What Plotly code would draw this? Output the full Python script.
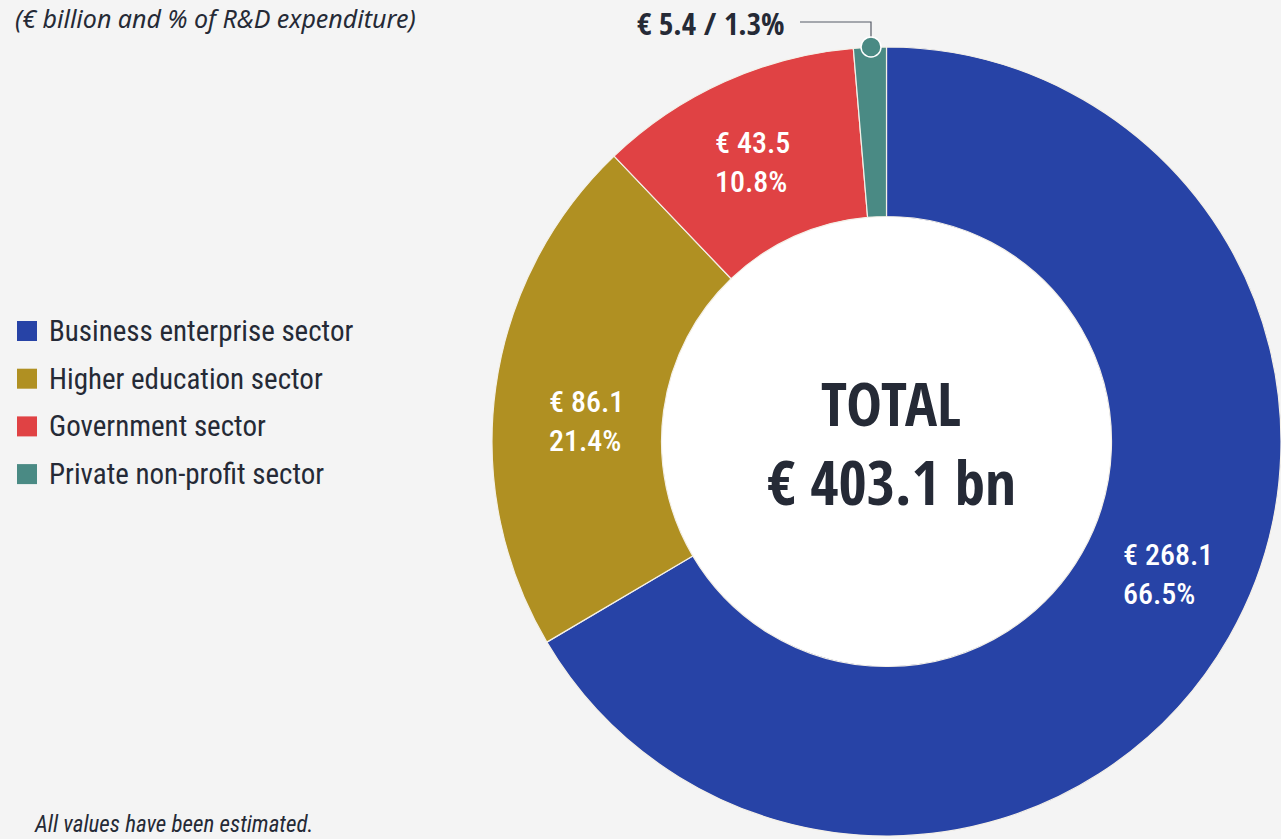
import plotly.graph_objects as go

# ---- data ----
sectors = ["Business enterprise sector", "Higher education sector",
           "Government sector", "Private non-profit sector"]
values_bn = [268.1, 86.1, 43.5, 5.4]
shares_pct = [66.5, 21.4, 10.8, 1.3]
total_bn = 403.1
colors = ["#2743a6", "#b09022", "#e04244", "#4a8a84"]

W, H = 1281, 839
BG = "#f4f4f4"
DARK = "#252a36"
COND = "Roboto Condensed, Roboto, sans-serif"
COND_BOLD = "Open Sans Condensed, Roboto Condensed, sans-serif"

def px(x):
    return x / W

def py(y):
    return 1 - y / H

# pie geometry (pixels)
left, top = 492, 44
cx, cy = (left + W) / 2, (top + H) / 2
R = min(W - left, H - top) / 2
hole_r = 225
hole = hole_r / R

fig = go.Figure()
fig.add_trace(go.Pie(
    labels=sectors, values=values_bn, sort=False, direction="clockwise",
    rotation=0, hole=hole,
    marker=dict(colors=colors, line=dict(color="#f4f0e8", width=1.2)),
    textinfo="none", showlegend=False, hoverinfo="label+value+percent",
    domain=dict(x=[px(left), 1.0], y=[0.0, py(top)]),
))

shapes = []
annotations = []

# white centre disc
shapes.append(dict(type="circle", xref="paper", yref="paper", layer="below",
                   x0=px(cx - hole_r), x1=px(cx + hole_r),
                   y0=py(cy + hole_r), y1=py(cy - hole_r),
                   fillcolor="white", line=dict(width=0)))

# slice labels
label_pos = [(1121, 574), (547, 421), (713, 162)]
for i, (lx, ly) in enumerate(label_pos):
    annotations.append(dict(
        xref="paper", yref="paper", x=px(lx), y=py(ly), xanchor="left", yanchor="middle",
        align="left", showarrow=False,
        text=f"€ {values_bn[i]:.1f}<br>{shares_pct[i]:.1f}%",
        font=dict(family=COND, size=30, color="white", weight=500)))

# small slice callout
annotations.append(dict(
    xref="paper", yref="paper", x=px(787), y=py(23), xanchor="right", yanchor="middle",
    showarrow=False, text=f"<b>€ {values_bn[3]:.1f} / {shares_pct[3]:.1f}%</b>",
    font=dict(family=COND_BOLD, size=31, color=DARK)))
shapes.append(dict(type="path", xref="paper", yref="paper",
                   path=f"M {px(800)} {py(22)} L {px(871)} {py(22)} L {px(871)} {py(37)}",
                   line=dict(color="#555a66", width=1.2)))
shapes.append(dict(type="circle", xref="paper", yref="paper",
                   x0=px(861), x1=px(881), y0=py(57), y1=py(37),
                   fillcolor=colors[3], line=dict(color="white", width=1.5)))

# centre text
annotations.append(dict(xref="paper", yref="paper", x=px(891), y=py(403),
                        xanchor="center", yanchor="middle", showarrow=False,
                        text="<b>TOTAL</b>",
                        font=dict(family=COND_BOLD, size=60, color=DARK)))
annotations.append(dict(xref="paper", yref="paper", x=px(891), y=py(481),
                        xanchor="center", yanchor="middle", showarrow=False,
                        text=f"<b>€ {total_bn:.1f} bn</b>",
                        font=dict(family=COND_BOLD, size=61, color=DARK)))

# legend
for i, name in enumerate(sectors):
    yy = 331 + i * 47.7
    shapes.append(dict(type="rect", xref="paper", yref="paper",
                       x0=px(17), x1=px(37), y0=py(yy + 10), y1=py(yy - 10),
                       fillcolor=colors[i], line=dict(width=0)))
    annotations.append(dict(xref="paper", yref="paper", x=px(47), y=py(yy),
                            xanchor="left", yanchor="middle", showarrow=False,
                            text=name, font=dict(family=COND, size=29, color=DARK)))

# subtitle and footnote
annotations.append(dict(xref="paper", yref="paper", x=px(14), y=1.0,
                        xanchor="left", yanchor="top", showarrow=False, borderpad=0,
                        text="<i>(€ billion and % of R&D expenditure)</i>",
                        font=dict(family="Noto Sans, Open Sans, sans-serif", size=25, color=DARK)))
annotations.append(dict(xref="paper", yref="paper", x=px(33), y=0.0,
                        xanchor="left", yanchor="bottom", showarrow=False, borderpad=0,
                        text="<i>All values have been estimated.</i>",
                        font=dict(family=COND, size=23, color=DARK)))

fig.update_layout(
    width=W, height=H, autosize=False,
    margin=dict(l=0, r=0, t=0, b=0),
    paper_bgcolor=BG, plot_bgcolor=BG,
    shapes=shapes, annotations=annotations,
)

fig.write_html("out.html", config={"displayModeBar": False},
               post_script="document.body.style.margin='0';document.body.style.overflow='hidden';")
